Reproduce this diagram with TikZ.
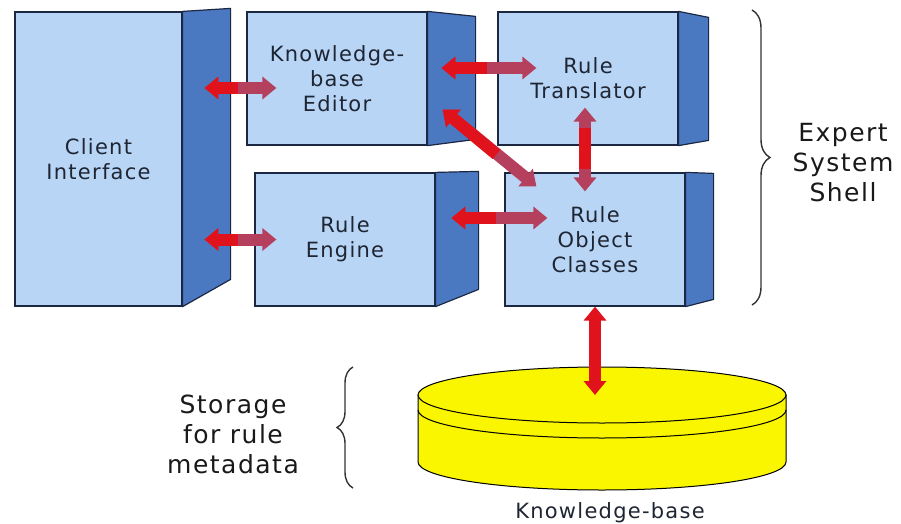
\documentclass[tikz,border=0pt]{standalone}
\usepackage{fontspec}
\setmainfont{DejaVu Sans}[LetterSpace=6]
\usepackage{xcolor}
\usepackage{tikz}
\usetikzlibrary{calc,arrows.meta,decorations.pathreplacing}

\definecolor{frontblue}{HTML}{B9D5F5}
\definecolor{sideblue}{HTML}{4A79C2}
\definecolor{edgeblue}{HTML}{1C2742}
\definecolor{arrowred}{HTML}{E0121C}
\definecolor{arrowmauve}{HTML}{B4405E}
\definecolor{diskyellow}{HTML}{FAF600}
\definecolor{labelgray}{HTML}{1E2533}

\tikzset{
	front/.style={draw=edgeblue,fill=frontblue,line width=1.2pt,minimum width=180pt,minimum height=133pt,align=center,text=labelgray,font=\fontsize{21}{25}\selectfont,inner sep=0pt},
	side/.style={draw=edgeblue,fill=sideblue,line width=1.2pt,line join=round},
	fat/.style={line width=12pt,{Triangle[length=14pt,width=22pt]}-{Triangle[length=14pt,width=22pt]}},
	fatstart/.style={line width=12pt,{Triangle[length=14pt,width=22pt]}-},
	disk/.style={draw=black,fill=diskyellow,line width=1pt},
	bracket/.style={draw=black!80,line width=1.4pt,decorate,decoration={brace,amplitude=#1}},
	sidetext/.style={align=center,text=black!90,font=\fontsize{25}{30}\selectfont},
}

\begin{document}
\begin{tikzpicture}[x=1pt,y=-1pt]
		\useasboundingbox (0,0) rectangle (901,524);
		% boxes
		\node[front,minimum width=167pt,minimum height=294pt] (ci) at (98.5,159) {Client\\Interface};
		\filldraw[side] (ci.north east) -- ++(48,-3) -- ++(0,271) -- (ci.south east) -- cycle;
		\node[front] (ed) at (337,78.5) {Knowledge-\\base\\Editor};
		\filldraw[side] (ed.north east) -- ++(48,5) -- ++(0,123) -- (ed.south east) -- cycle;
		\node[front] (en) at (345,239.5) {Rule\\Engine};
		\filldraw[side] (en.north east) -- ++(43,-1) -- ++(0,118) -- (en.south east) -- cycle;
		\node[front] (tr) at (588,78.5) {Rule\\Translator};
		\filldraw[side] (tr.north east) -- ++(30,6) -- ++(0,123) -- (tr.south east) -- cycle;
		\node[front] (cl) at (595,239.5) {Rule\\Object\\Classes};
		\filldraw[side] (cl.north east) -- ++(28,1) -- ++(0,126) -- (cl.south east) -- cycle;
		
		% knowledge-base disk
		\filldraw[disk] (418,395) -- (418,462) arc[start angle=180,end angle=0,x radius=184,y radius=28] -- (786,395) -- cycle;
		\filldraw[disk] (602,395) ellipse[x radius=184,y radius=28];
		\draw[disk,fill=none] (418,410) arc[start angle=180,end angle=0,x radius=184,y radius=28];
		\coordinate (kb) at (595,395);
		\node[font=\fontsize{21}{25}\selectfont,text=labelgray] (kblabel) at (610,513) {Knowledge-base};
		
		% arrows
		\draw[fat,arrowmauve] ($(ed.west)+(-42,9.5)$) -- ($(ed.west)+(30,9.5)$);
		\draw[fatstart,arrowred] ($(ed.west)+(-42,9.5)$) -- ($(ed.west)+(-8,9.5)$);
		\draw[fat,arrowmauve] ($(en.west)+(-50,0)$) -- ($(en.west)+(22,0)$);
		\draw[fatstart,arrowred] ($(en.west)+(-50,0)$) -- ($(en.west)+(-16,0)$);
		\draw[fat,arrowmauve] ($(tr.west)+(-56,-10.5)$) -- ($(tr.west)+(39,-10.5)$);
		\draw[fatstart,arrowred] ($(tr.west)+(-56,-10.5)$) -- ($(tr.west)+(-10,-10.5)$);
		\draw[fat,arrowmauve] ($(cl.west)+(-53,-21.5)$) -- ($(cl.west)+(43,-21.5)$);
		\draw[fatstart,arrowred] ($(cl.west)+(-53,-21.5)$) -- ($(cl.west)+(-8,-21.5)$);
		\draw[fat,arrowmauve] ($(tr.south)+(-3,-38)$) -- ($(cl.north)+(-10,19)$);
		\draw[line width=12pt,arrowred] ($(tr.south)+(-3,-18)$) -- ($(cl.north)+(-10,-3)$);
		\draw[fat,arrowmauve] ($(ed.south east)+(15,-36)$) -- ($(cl.north west)+(32,14)$);
		\draw[fatstart,arrowred] ($(ed.south east)+(15,-36)$) -- ($(cl.north west)+(-8,-18)$);
		\draw[fat,arrowred] (cl.south) -- (kb);
		
		% braces and their labels
		\draw[bracket=18pt] (752,10) -- (752,305);
		\node[sidetext] (shell) at (843,163) {Expert\\System\\Shell};
		\draw[bracket=16pt] (353,488) -- (353,367);
		\node[sidetext] (storage) at (233,434) {Storage\\for rule\\metadata};
	\end{tikzpicture}
\end{document}
